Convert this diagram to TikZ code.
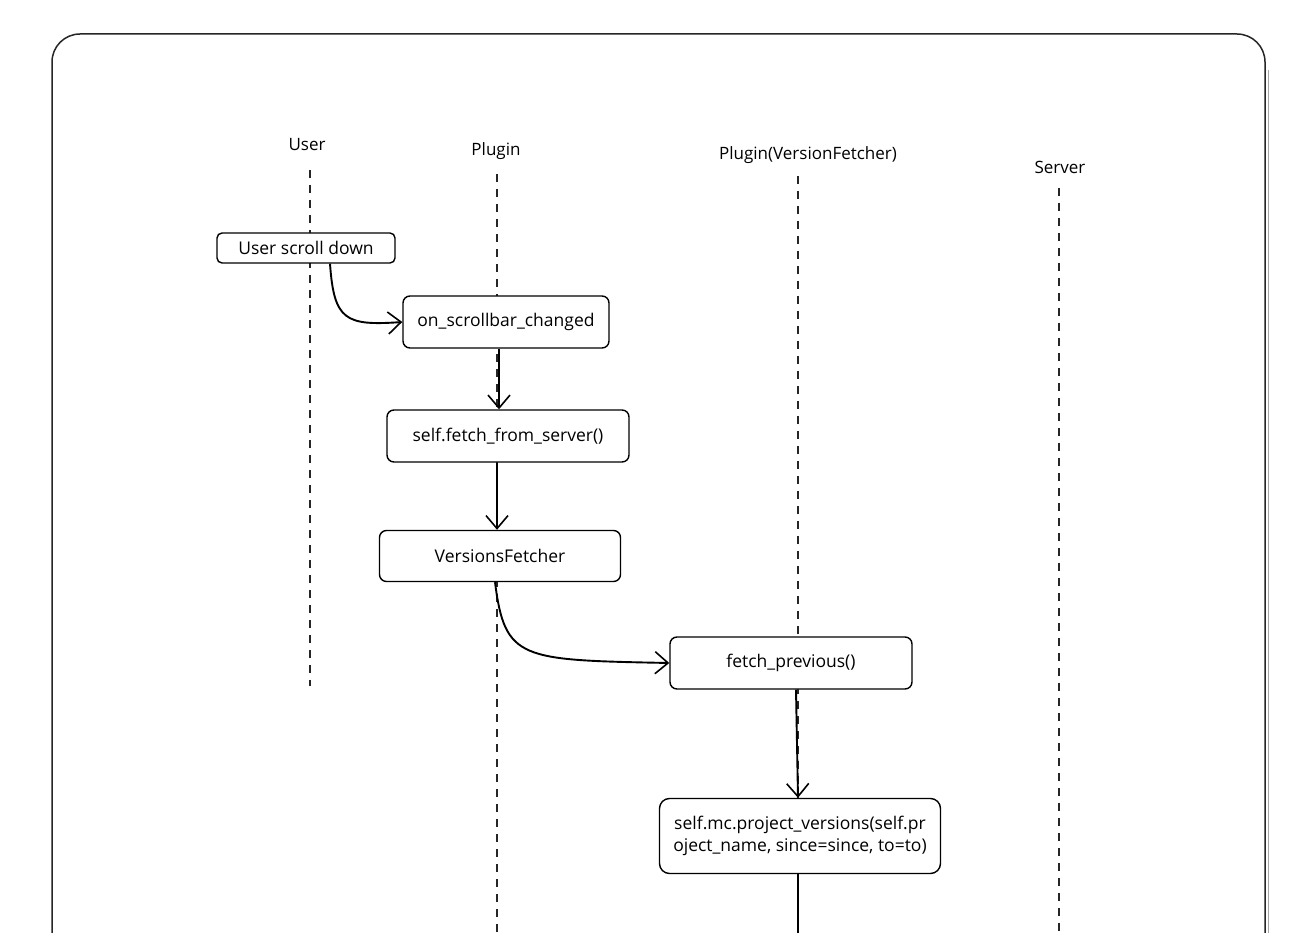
\documentclass[tikz,border=0pt]{standalone}
\usepackage{fontspec}
\setmainfont{Open Sans}
\usetikzlibrary{arrows.meta}
\begin{document}
\begin{tikzpicture}[x=1pt,y=-1pt,
  lifeline/.style={line width=1.6pt,dash pattern=on 8pt off 7pt,black!85},
  actor/.style={font=\fontsize{17}{20}\selectfont,anchor=center},
  procbox/.style={draw,line width=1.4pt,rounded corners=7pt,font=\fontsize{17.5}{21}\selectfont,align=center,inner sep=0pt,anchor=center},
  conn/.style={line width=1.9pt,-{Straight Barb[length=13pt,width=22pt,line width=1.6pt]}}]
\useasboundingbox (0,0) rectangle (1307,933);
\fill[white] (0,0) rectangle (1307,933);
% frame
\draw[line width=1.5pt,black!85,rounded corners=28pt] (52,960) -- (52,34) -- (1265,34) -- (1265,960);
\draw[line width=0.8pt,black!35] (1268,70) -- (1268,933);
% actors
\node[actor] (uA) at (307,145) {User};
\node[actor] (pA) at (496,151) {Plugin};
\node[actor] (vA) at (808,155) {Plugin(VersionFetcher)};
\node[actor] (sA) at (1060,167) {Server};
\coordinate (uTop) at (310,170);
\coordinate (uBot) at (310,686);
\coordinate (pTop) at (497,174);
\coordinate (pBot) at (497,933);
\coordinate (vTop) at (798,176);
\coordinate (vBot) at (798,933);
\coordinate (sTop) at (1059,188);
\coordinate (sBot) at (1059,933);
\draw[lifeline] (uTop) -- (uBot);
\draw[lifeline] (pTop) -- (pBot);
\draw[lifeline] (vTop) -- (vBot);
\draw[lifeline] (sTop) -- (sBot);
% boxes
\node[procbox,fill=white,minimum width=178pt,minimum height=30pt,rounded corners=5pt] (b1) at (306,248) {User scroll down};
\node[procbox,fill=white,minimum width=206pt,minimum height=52pt] (b2) at (506,322) {on\_scrollbar\_changed};
\node[procbox,fill=white,minimum width=242pt,minimum height=52pt] (b3) at (508,436) {self.fetch\_from\_server()};
\node[procbox,fill=white,minimum width=241pt,minimum height=51pt] (b4) at (500,556) {VersionsFetcher};
\node[procbox,fill=white,minimum width=242pt,minimum height=52pt] (b5) at (791,663) {fetch\_previous()};
\node[procbox,fill=white,minimum width=281pt,minimum height=75pt,rounded corners=10pt,font=\fontsize{17.5}{22}\selectfont] (b6) at (800,836) {self.mc.project\_versions(self.pr\\oject\_name, since=since, to=to)};
% connectors
\coordinate (endBot) at (798,933);
\draw[conn] ([xshift=24pt]b1.south) .. controls (334,320) and (345,326) .. (b2.west);
\draw[conn] ([xshift=-7pt]b2.south) -- ([xshift=-9pt]b3.north);
\draw[conn] ([xshift=-11pt]b3.south) -- ([xshift=-3pt]b4.north);
\draw[conn] ([xshift=-5pt]b4.south) .. controls (505,660) and (520,660) .. (b5.west);
\draw[conn] ([xshift=5pt]b5.south) -- ([xshift=-2pt]b6.north);
\draw[line width=1.9pt] ([xshift=-2pt]b6.south) -- (endBot);
\end{tikzpicture}
\end{document}
